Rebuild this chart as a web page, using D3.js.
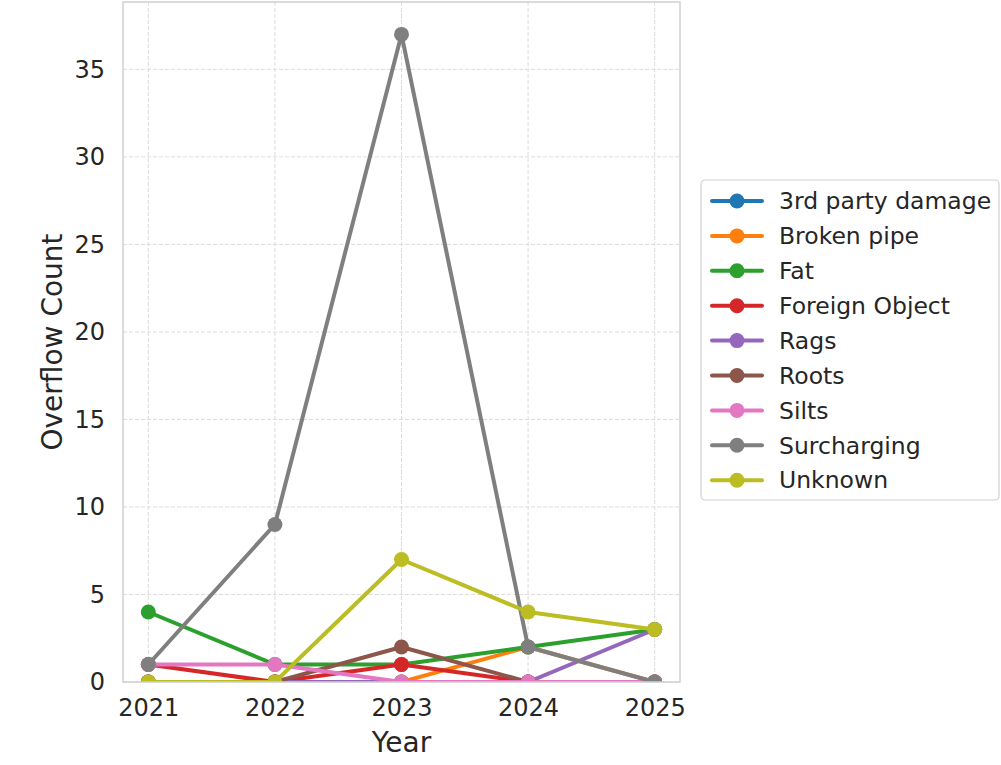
<!DOCTYPE html>
<html>
<head>
<meta charset="utf-8">
<script src="https://cdn.jsdelivr.net/npm/d3@7"></script>
<style>
  body { margin: 0; background: #fff; }
  text { font-family: "DejaVu Sans", sans-serif; fill: #262626; }
</style>
</head>
<body>
<div id="chart"></div>
<script>
// overflow counts per cause, by year
const years = [2021, 2022, 2023, 2024, 2025];
const causes = ["3rd party damage", "Broken pipe", "Fat", "Foreign Object", "Rags", "Roots", "Silts", "Surcharging", "Unknown"];
const colors = ["#1f77b4", "#ff7f0e", "#2ca02c", "#d62728", "#9467bd", "#8c564b", "#e377c2", "#7f7f7f", "#bcbd22"];

const thirdParty  = [0, 0, 0, 0, 0];
const brokenPipe  = [0, 0, 0, 2, 0];
const fat         = [4, 1, 1, 2, 3];
const foreignObj  = [1, 0, 1, 0, 0];
const rags        = [0, 0, 0, 0, 3];
const roots       = [0, 0, 2, 0, 0];
const silts       = [1, 1, 0, 0, 0];
const surcharging = [1, 9, 37, 2, 0];
const unknown     = [0, 0, 7, 4, 3];

const yTicks = [0, 5, 10, 15, 20, 25, 30, 35];

const seriesVals = [thirdParty, brokenPipe, fat, foreignObj, rags, roots, silts, surcharging, unknown];
const series = causes.map((c, i) => ({
    name: c,
    color: colors[i],
    values: years.map((y, j) => ({ year: y, v: seriesVals[i][j] }))
}));

const W = 1001, H = 765;
const plot = { left: 123, right: 680, top: 2, bottom: 682 };

const svg = d3.select("#chart").append("svg")
    .attr("width", W)
    .attr("height", H);

const x = d3.scaleLinear().domain([2020.8, 2025.2]).range([plot.left, plot.right]);
const y = d3.scaleLinear().domain([0, 38.85]).range([plot.bottom, plot.top]);

// grid - dashed both ways
const grid = svg.append("g").attr("stroke", "#dcdcdc").attr("stroke-width", 1).attr("stroke-dasharray", "4,2");
grid.selectAll(".gx").data(years).enter().append("line")
    .attr("x1", d => x(d)).attr("x2", d => x(d))
    .attr("y1", plot.top).attr("y2", plot.bottom);
grid.selectAll(".gy").data(yTicks).enter().append("line")
    .attr("x1", plot.left).attr("x2", plot.right)
    .attr("y1", d => y(d)).attr("y2", d => y(d));

// axes (no tick marks, just labels)
const xAxis = svg.append("g")
    .attr("transform", `translate(0,${plot.bottom})`)
    .call(d3.axisBottom(x).tickValues(years).tickFormat(d3.format("d")).tickSize(0).tickPadding(17));
xAxis.select(".domain").remove();
xAxis.selectAll("text").style("font-size", "24px").attr("fill", "#262626");

const yAxis = svg.append("g")
    .attr("transform", `translate(${plot.left},0)`)
    .call(d3.axisLeft(y).tickValues(yTicks).tickSize(0).tickPadding(18));
yAxis.select(".domain").remove();
yAxis.selectAll("text").style("font-size", "24px").attr("fill", "#262626");

// lines + markers
const line = d3.line().x(d => x(d.year)).y(d => y(d.v));
svg.append("clipPath").attr("id", "plotclip").append("rect")
    .attr("x", plot.left).attr("y", plot.top)
    .attr("width", plot.right - plot.left).attr("height", plot.bottom - plot.top);

const marks = svg.append("g").attr("clip-path", "url(#plotclip)");
series.forEach(s => {
    const g = marks.append("g");
    g.append("path")
        .datum(s.values)
        .attr("d", line)
        .attr("fill", "none")
        .attr("stroke", s.color)
        .attr("stroke-width", 4)
        .attr("stroke-linejoin", "round")
        .attr("stroke-linecap", "round");
    g.selectAll("circle").data(s.values).enter().append("circle")
        .attr("cx", d => x(d.year))
        .attr("cy", d => y(d.v))
        .attr("r", 7.5)
        .attr("fill", s.color);
});

// frame
svg.append("rect")
    .attr("x", plot.left).attr("y", plot.top)
    .attr("width", plot.right - plot.left).attr("height", plot.bottom - plot.top)
    .attr("fill", "none").attr("stroke", "#d0d0d0").attr("stroke-width", 1.5);

// axis titles
svg.append("text")
    .attr("x", (plot.left + plot.right) / 2).attr("y", 752)
    .attr("text-anchor", "middle")
    .style("font-size", "28px")
    .text("Year");
svg.append("text")
    .attr("transform", `translate(62,${(plot.top + plot.bottom) / 2}) rotate(-90)`)
    .attr("text-anchor", "middle")
    .style("font-size", "28px")
    .text("Overflow Count");

// legend
const legend = svg.append("g").attr("transform", "translate(701,180)");
legend.append("rect")
    .attr("width", 298).attr("height", 320)
    .attr("rx", 4)
    .attr("fill", "#fff")
    .attr("stroke", "#d0d0d0").attr("stroke-width", 1.2);

series.forEach((s, i) => {
    const row = legend.append("g").attr("transform", `translate(0,${21 + i * 34.9})`);
    row.append("line")
        .attr("x1", 11).attr("x2", 61)
        .attr("stroke", s.color).attr("stroke-width", 4)
        .attr("stroke-linecap", "round");
    row.append("circle").attr("cx", 36).attr("r", 7.5).attr("fill", s.color);
    row.append("text")
        .attr("x", 78).attr("dy", "0.35em")
        .style("font-size", "23.5px")
        .text(s.name);
});
</script>
</body>
</html>
